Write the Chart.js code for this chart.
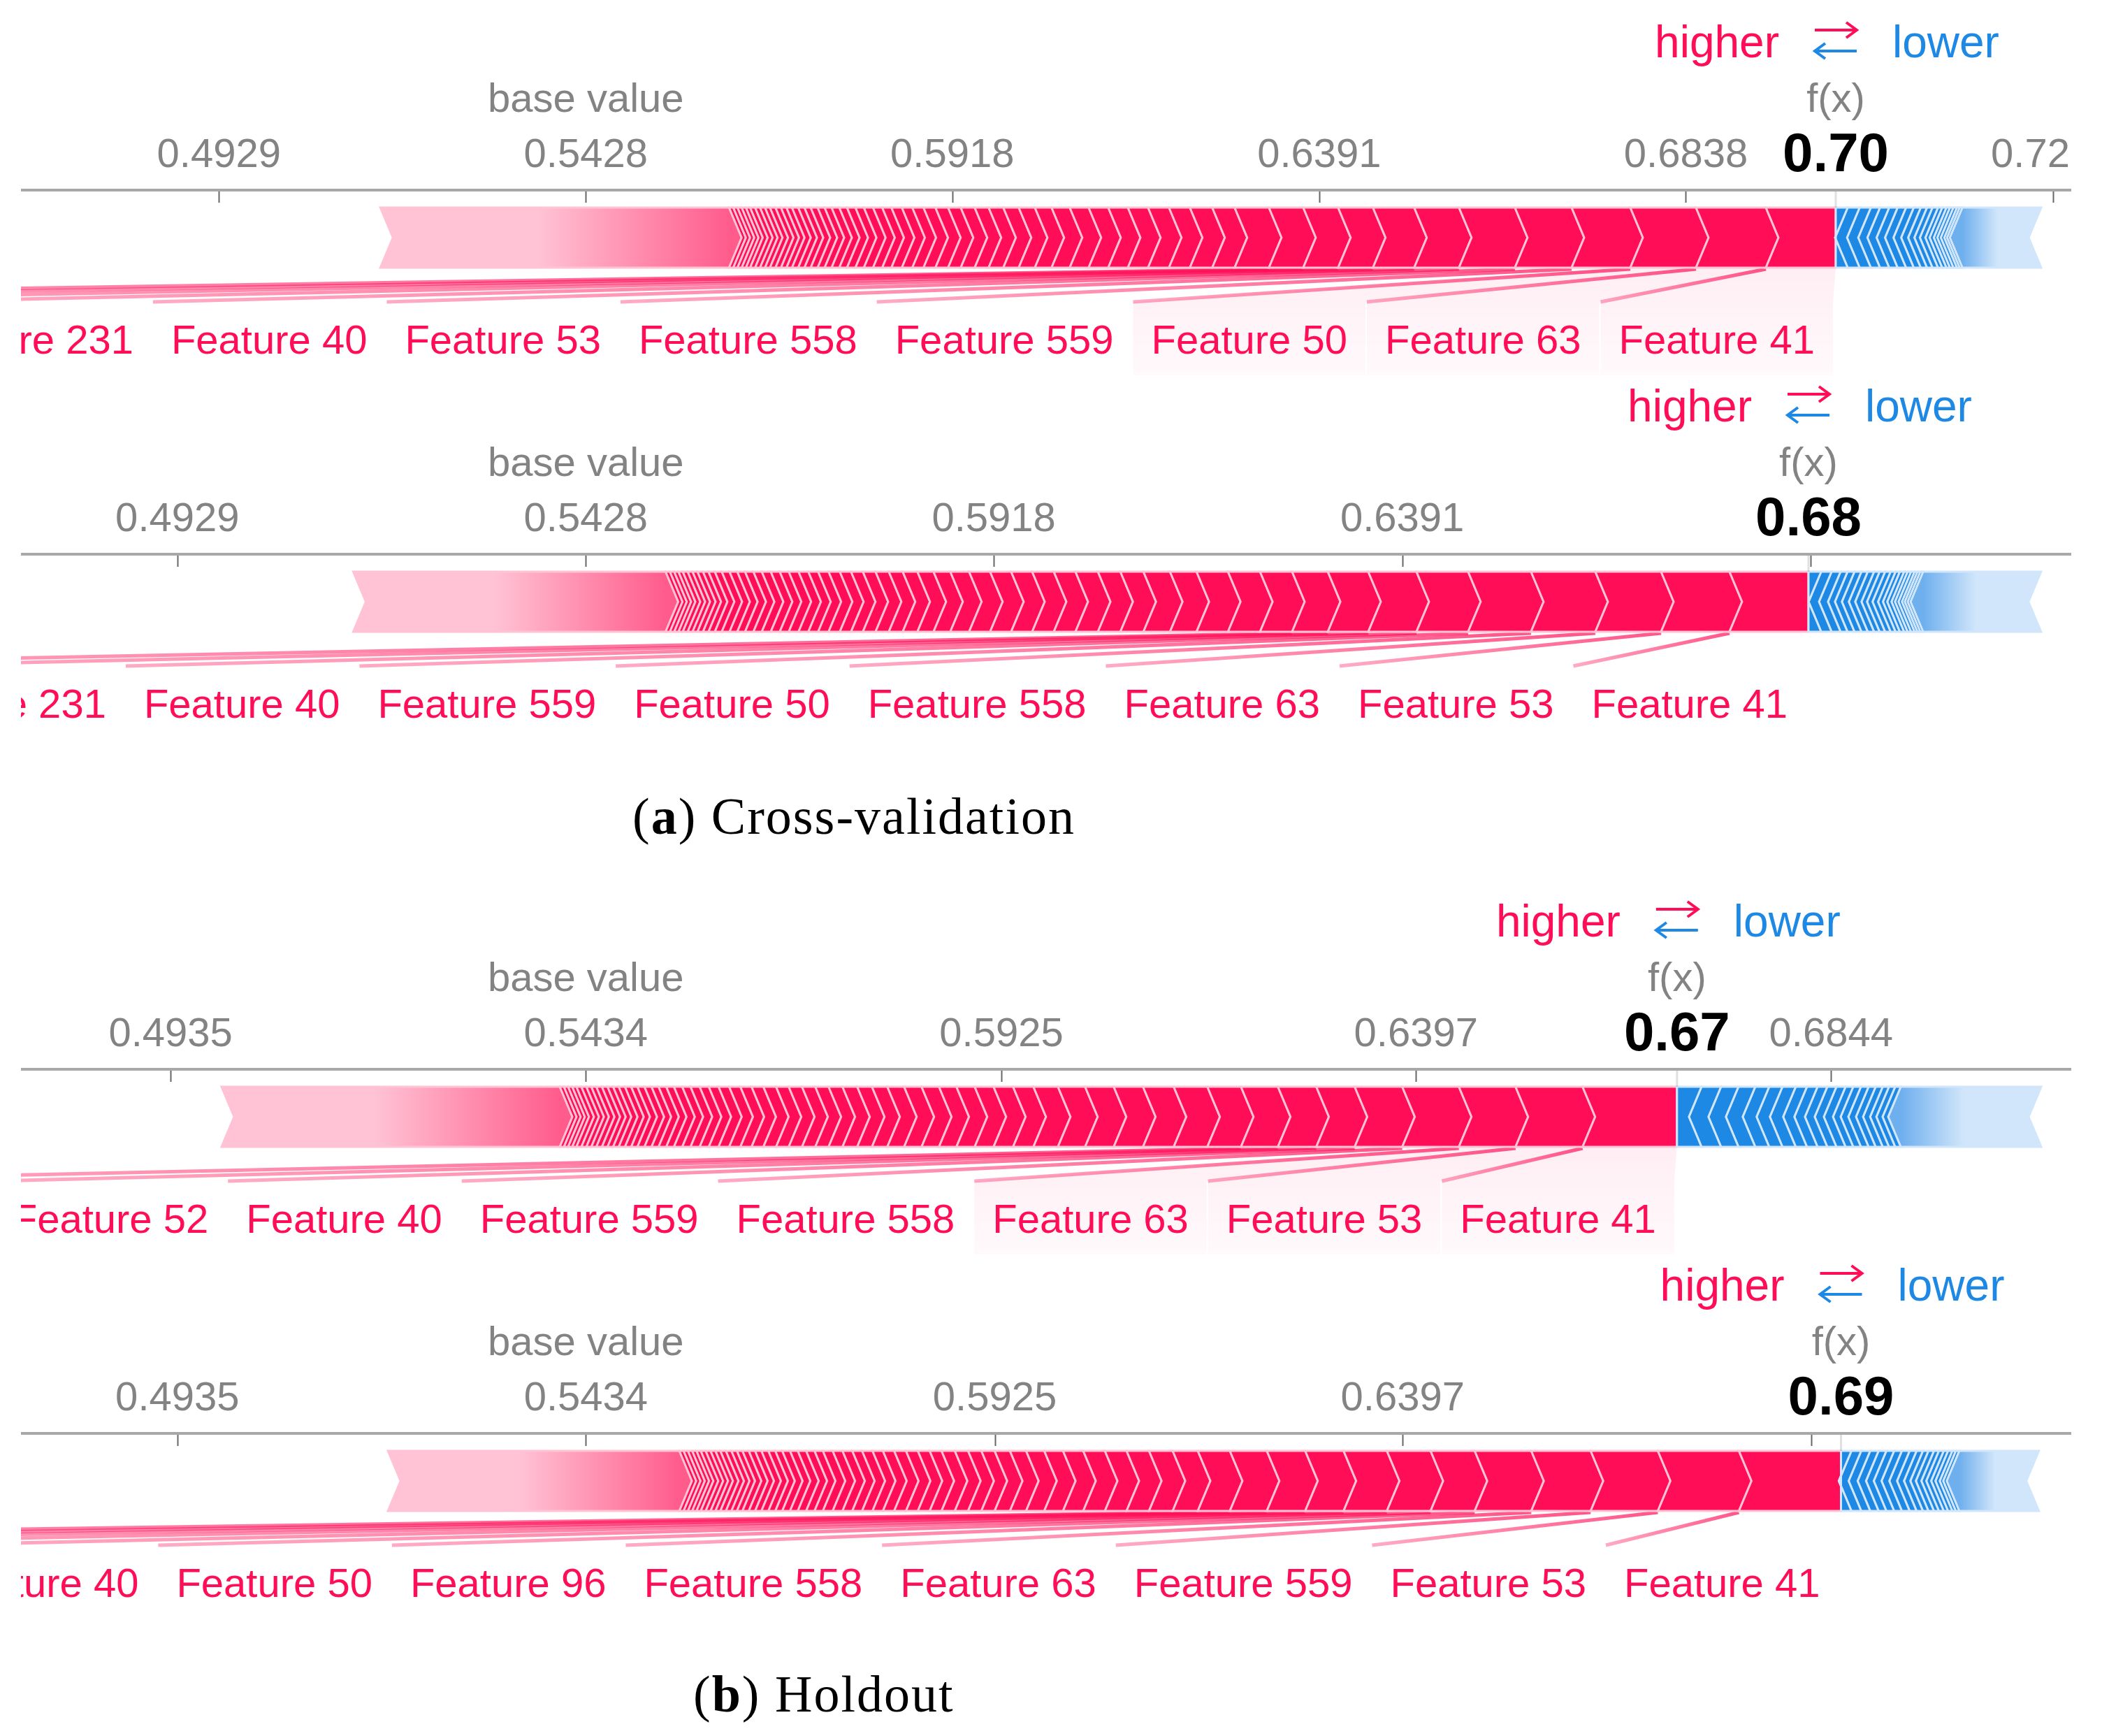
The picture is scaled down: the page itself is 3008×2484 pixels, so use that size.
<!DOCTYPE html>
<html>
<head>
<meta charset="utf-8">
<script src="https://cdn.jsdelivr.net/npm/chart.js@4.4.0/dist/chart.umd.min.js"></script>
<style>
  body { margin: 0; background: #fff; }
  #page { position: relative; width: 3008px; height: 2484px; overflow: hidden; background: #fff; }
  canvas { position: absolute; left: 30px; }
  .caption { position: absolute; font-family: 'Liberation Serif', serif; font-size: 74px; line-height: 1; color: #000; letter-spacing: 2px; white-space: nowrap; }
</style>
</head>
<body>
<div id="page">
  <canvas id="cv1" width="2934" height="540" style="top:0px"></canvas>
  <canvas id="cv2" width="2934" height="540" style="top:521px"></canvas>
  <div class="caption" style="left:905px; top:1131px">(<b>a</b>) Cross-validation</div>
  <canvas id="ho1" width="2934" height="540" style="top:1258px"></canvas>
  <canvas id="ho2" width="2934" height="540" style="top:1779px"></canvas>
  <div class="caption" style="left:992px; top:2387px">(<b>b</b>) Holdout</div>
</div>
<script>
// Cross-validation, first sample
const cv1Ticks = [0.4929, 0.5428, 0.5918, 0.6391, 0.6838, 0.7254];
const cv1Range = [-0.1363, 0.9814];
const cv1Base = 0.5428;
const cv1Names = ['Feature 41', 'Feature 63', 'Feature 50', 'Feature 559', 'Feature 558', 'Feature 53', 'Feature 40', 'Feature 231', null, null, null];
const cv1Higher = [0.0381, 0.0381, 0.0358, 0.0320, 0.0309, 0.0305, 0.0244, 0.0225, 0.0190, 0.0190, 0.0187, 0.0187, 0.0122, 0.0122, 0.0114, 0.0114, 0.0110, 0.0107, 0.0107, 0.0103, 0.0099, 0.0091, 0.0088, 0.0084, 0.0080, 0.0076, 0.0076, 0.0069, 0.0069, 0.0065, 0.0061, 0.0057, 0.0057, 0.0050, 0.0050, 0.0050, 0.0046, 0.0046, 0.0042, 0.0042, 0.0038, 0.0038, 0.0038, 0.0034, 0.0034, 0.0034, 0.0030, 0.0030, 0.0030, 0.0030, 0.0027, 0.0027, 0.0027, 0.0027, 0.0023, 0.0023, 0.0023, 0.0023, 0.0023];
const cv1HigherRest = 0.1901;
const cv1Lower = [0.0065, 0.0065, 0.0061, 0.0050, 0.0050, 0.0046, 0.0046, 0.0042, 0.0038, 0.0034, 0.0030, 0.0030, 0.0023, 0.0023, 0.0019, 0.0019, 0.0019, 0.0015, 0.0015];
const cv1LowerRest = 0.0430;

// Cross-validation, second sample
const cv2Ticks = [0.4929, 0.5428, 0.5918, 0.6391, 0.6838];
const cv2Range = [-0.1050, 0.8991];
const cv2Base = 0.5428;
const cv2Names = ['Feature 41', 'Feature 53', 'Feature 63', 'Feature 558', 'Feature 50', 'Feature 559', 'Feature 40', 'Feature 231', null];
const cv2Higher = [0.0387, 0.0335, 0.0322, 0.0315, 0.0308, 0.0253, 0.0236, 0.0198, 0.0175, 0.0157, 0.0157, 0.0154, 0.0130, 0.0130, 0.0113, 0.0110, 0.0110, 0.0106, 0.0106, 0.0103, 0.0103, 0.0103, 0.0092, 0.0082, 0.0079, 0.0072, 0.0068, 0.0065, 0.0062, 0.0058, 0.0055, 0.0055, 0.0051, 0.0048, 0.0048, 0.0048, 0.0044, 0.0044, 0.0044, 0.0041, 0.0041, 0.0038, 0.0038, 0.0038, 0.0034, 0.0031, 0.0027, 0.0027, 0.0024, 0.0024, 0.0024, 0.0021, 0.0021, 0.0021, 0.0021];
const cv2HigherRest = 0.1530;
const cv2Lower = [0.0062, 0.0051, 0.0044, 0.0034, 0.0034, 0.0034, 0.0031, 0.0031, 0.0027, 0.0027, 0.0027, 0.0024, 0.0021, 0.0021, 0.0017, 0.0017, 0.0017, 0.0014, 0.0014, 0.0014];
const cv2LowerRest = 0.0578;

// Holdout, first sample
const ho1Ticks = [0.4935, 0.5434, 0.5925, 0.6397, 0.6844];
const ho1Range = [-0.0981, 0.8898];
const ho1Base = 0.5434;
const ho1Names = ['Feature 41', 'Feature 53', 'Feature 63', 'Feature 558', 'Feature 559', 'Feature 40', 'Feature 52', null];
const ho1Higher = [0.0455, 0.0323, 0.0273, 0.0273, 0.0229, 0.0185, 0.0185, 0.0178, 0.0162, 0.0162, 0.0148, 0.0141, 0.0138, 0.0131, 0.0118, 0.0098, 0.0094, 0.0091, 0.0088, 0.0084, 0.0084, 0.0084, 0.0081, 0.0074, 0.0071, 0.0071, 0.0067, 0.0064, 0.0064, 0.0064, 0.0061, 0.0061, 0.0057, 0.0054, 0.0054, 0.0051, 0.0047, 0.0044, 0.0044, 0.0040, 0.0040, 0.0037, 0.0037, 0.0034, 0.0034, 0.0034, 0.0030, 0.0030, 0.0030, 0.0027, 0.0027, 0.0027, 0.0027, 0.0024, 0.0024, 0.0024, 0.0024, 0.0020, 0.0020, 0.0020, 0.0020];
const ho1HigherRest = 0.1630;
const ho1Lower = [0.0118, 0.0094, 0.0084, 0.0081, 0.0067, 0.0064, 0.0064, 0.0054, 0.0051, 0.0047, 0.0044, 0.0044, 0.0037, 0.0037, 0.0037, 0.0034, 0.0034, 0.0030, 0.0030, 0.0027];
const ho1LowerRest = 0.0677;

// Holdout, second sample
const ho2Ticks = [0.4935, 0.5434, 0.5925, 0.6397, 0.6844];
const ho2Range = [-0.1026, 0.9015];
const ho2Base = 0.5434;
const ho2Names = ['Feature 41', 'Feature 53', 'Feature 559', 'Feature 63', 'Feature 558', 'Feature 96', 'Feature 50', 'Feature 40', null, null, null, null];
const ho2Higher = [0.0500, 0.0397, 0.0329, 0.0291, 0.0277, 0.0216, 0.0214, 0.0212, 0.0188, 0.0188, 0.0181, 0.0157, 0.0123, 0.0116, 0.0110, 0.0106, 0.0106, 0.0099, 0.0092, 0.0089, 0.0079, 0.0075, 0.0065, 0.0065, 0.0065, 0.0065, 0.0058, 0.0058, 0.0058, 0.0058, 0.0055, 0.0051, 0.0051, 0.0048, 0.0048, 0.0048, 0.0048, 0.0041, 0.0041, 0.0041, 0.0038, 0.0038, 0.0034, 0.0034, 0.0034, 0.0031, 0.0031, 0.0031, 0.0027, 0.0027, 0.0027, 0.0027, 0.0024, 0.0024, 0.0024, 0.0024, 0.0021, 0.0021, 0.0021, 0.0021, 0.0021];
const ho2HigherRest = 0.1427;
const ho2Lower = [0.0051, 0.0048, 0.0044, 0.0041, 0.0038, 0.0038, 0.0038, 0.0038, 0.0034, 0.0031, 0.0027, 0.0027, 0.0024, 0.0024, 0.0021, 0.0021, 0.0017, 0.0017];
const ho2LowerRest = 0.0390;


// Colours and layout (pixels inside each canvas)
const RED = '#ff0d57';
const RED_LIGHT = 'rgb(255,195,213)';
const BLUE = '#1e88e5';
const BLUE_LIGHT = 'rgb(209,230,250)';
const AXIS_Y = 272;
const BAR_TOP = 297;
const BAR_BOT = 383;
const TIP = 18;
const LINE_END_Y = 432;
const LABEL_Y = 506;
const BACK_BOT = 537;
const FONT = '"Liberation Sans", Arial, sans-serif';

const logit = p => Math.log(p / (1 - p));
const sigmoid = v => 1 / (1 + Math.exp(-v));
const sum = a => a.reduce((s, v) => s + v, 0);


function drawSegment(ctx, x0, x1, tipL, tipR, dir, fill, stroke) {
  const mid = (BAR_TOP + BAR_BOT) / 2;
  ctx.beginPath();
  ctx.moveTo(x0, BAR_TOP);
  ctx.lineTo(x1, BAR_TOP);
  ctx.lineTo(x1 + dir * tipR, mid);
  ctx.lineTo(x1, BAR_BOT);
  ctx.lineTo(x0, BAR_BOT);
  ctx.lineTo(x0 + dir * tipL, mid);
  ctx.closePath();
  ctx.fillStyle = fill;
  ctx.fill();
  ctx.strokeStyle = stroke;
  ctx.lineWidth = 3;
  ctx.stroke();
}


function drawArrow(ctx, xFrom, xTo, y, color) {
  const d = Math.sign(xTo - xFrom);
  ctx.strokeStyle = color;
  ctx.lineWidth = 4;
  ctx.beginPath();
  ctx.moveTo(xFrom, y);
  ctx.lineTo(xTo, y);
  ctx.moveTo(xTo - d * 15, y - 11);
  ctx.lineTo(xTo, y);
  ctx.lineTo(xTo - d * 15, y + 11);
  ctx.stroke();
}


function forcePlot(id, cfg) {
  const baseL = logit(cfg.base);
  const fxL = baseL + sum(cfg.higher) + cfg.higherRest - sum(cfg.lower) - cfg.lowerRest;

  // segments pushing higher, from f(x) leftwards
  const red = [];
  let cur = fxL;
  cfg.higher.forEach(v => { red.push([cur - v, cur]); cur -= v; });
  const redRest = [cur - cfg.higherRest, cur];

  // segments pushing lower, from f(x) rightwards
  const blue = [];
  cur = fxL;
  cfg.lower.forEach(v => { blue.push([cur, cur + v]); cur += v; });
  const blueRest = [cur, cur + cfg.lowerRest];

  const forceDraw = {
    id: 'force-' + id,
    afterDraw(chart) {
      const ctx = chart.ctx;
      const xs = chart.scales.x;
      const px = v => xs.getPixelForValue(v);
      const fxX = px(fxL);

      ctx.save();

      // label boxes, right to left from f(x)
      ctx.font = '58px ' + FONT;
      const defaultW = ctx.measureText('Feature 231').width;
      const boxes = [];
      let right = fxX - 30;
      cfg.names.forEach((name, i) => {
        const w = name ? ctx.measureText(name).width : defaultW;
        const left = right - w;
        boxes.push({ name, textLeft: left, boxLeft: left - 26, boxRight: right + 26, seg: red[i] });
        right = left - 54;
      });

      // label backings
      boxes.slice(0, cfg.backing).forEach(b => {
        const g = ctx.createLinearGradient(0, BAR_BOT, 0, BACK_BOT);
        g.addColorStop(0, 'rgba(255,13,87,0.07)');
        g.addColorStop(1, 'rgba(255,13,87,0.025)');
        ctx.beginPath();
        ctx.moveTo(px(b.seg[0]), BAR_BOT);
        ctx.lineTo(px(b.seg[1]), BAR_BOT);
        ctx.lineTo(b.boxRight, LINE_END_Y);
        ctx.lineTo(b.boxRight, BACK_BOT);
        ctx.lineTo(b.boxLeft, BACK_BOT);
        ctx.lineTo(b.boxLeft, LINE_END_Y);
        ctx.closePath();
        ctx.fillStyle = g;
        ctx.fill();
      });

      // label lines
      boxes.forEach(b => {
        const sx = px(b.seg[0]);
        const g = ctx.createLinearGradient(b.boxLeft, 0, sx, 0);
        g.addColorStop(0, 'rgba(255,13,87,0.35)');
        g.addColorStop(1, 'rgba(255,13,87,0.7)');
        ctx.strokeStyle = g;
        ctx.lineWidth = 5;
        ctx.beginPath();
        ctx.moveTo(sx, BAR_BOT + 2);
        ctx.lineTo(b.boxLeft, LINE_END_Y);
        ctx.stroke();
      });

      // bar: higher side
      let g = ctx.createLinearGradient(px(redRest[0]), 0, px(redRest[1]), 0);
      g.addColorStop(0, RED_LIGHT);
      g.addColorStop(0.45, RED_LIGHT);
      g.addColorStop(1, 'rgb(255,92,140)');
      drawSegment(ctx, px(redRest[0]), px(redRest[1]), TIP, TIP, 1, g, RED_LIGHT);
      for (let i = red.length - 1; i >= 0; i--) {
        drawSegment(ctx, px(red[i][0]), px(red[i][1]), TIP, i === 0 ? 0 : TIP, 1, RED, RED_LIGHT);
      }

      // bar: lower side
      g = ctx.createLinearGradient(px(blueRest[0]), 0, px(blueRest[1]), 0);
      g.addColorStop(0, 'rgb(110,175,238)');
      g.addColorStop(0.45, BLUE_LIGHT);
      g.addColorStop(1, BLUE_LIGHT);
      drawSegment(ctx, px(blueRest[0]), px(blueRest[1]), TIP, TIP, -1, g, BLUE_LIGHT);
      for (let i = blue.length - 1; i >= 0; i--) {
        drawSegment(ctx, px(blue[i][0]), px(blue[i][1]), i === 0 ? 0 : TIP, TIP, -1, BLUE, BLUE_LIGHT);
      }

      // label texts
      ctx.font = '58px ' + FONT;
      ctx.fillStyle = RED;
      ctx.textAlign = 'left';
      ctx.textBaseline = 'alphabetic';
      boxes.forEach(b => { if (b.name) ctx.fillText(b.name, b.textLeft, LABEL_Y); });

      // tick marks under the axis line
      ctx.strokeStyle = '#666';
      ctx.lineWidth = 2;
      xs.ticks.forEach(t => {
        const x = Math.round(px(t.value)) + 0.5;
        ctx.beginPath();
        ctx.moveTo(x, AXIS_Y + 2);
        ctx.lineTo(x, AXIS_Y + 18);
        ctx.stroke();
      });

      // f(x) marker
      ctx.strokeStyle = 'rgba(0,0,0,0.12)';
      ctx.lineWidth = 3;
      ctx.beginPath();
      ctx.moveTo(fxX, AXIS_Y + 2);
      ctx.lineTo(fxX, BAR_TOP);
      ctx.stroke();

      // base value and f(x) labels
      ctx.textAlign = 'center';
      ctx.fillStyle = '#838383';
      ctx.font = '58px ' + FONT;
      ctx.fillText('base value', px(baseL), 160);
      ctx.fillText('f(x)', fxX, 160);
      ctx.fillStyle = '#000';
      ctx.font = 'bold 78px ' + FONT;
      ctx.fillText(sigmoid(fxL).toFixed(2), fxX, 245);

      // higher / lower legend
      ctx.font = '64px ' + FONT;
      ctx.textAlign = 'right';
      ctx.fillStyle = RED;
      ctx.fillText('higher', fxX - 81, 82);
      ctx.textAlign = 'left';
      ctx.fillStyle = BLUE;
      ctx.fillText('lower', fxX + 81, 82);
      drawArrow(ctx, fxX - 30, fxX + 30, 43, RED);
      drawArrow(ctx, fxX + 30, fxX - 30, 73, BLUE);

      ctx.restore();
    }
  };

  return new Chart(document.getElementById(id), {
    type: 'scatter',
    data: { datasets: [] },
    options: {
      responsive: false,
      animation: false,
      layout: { padding: 0 },
      plugins: { legend: { display: false }, tooltip: { enabled: false } },
      scales: {
        x: {
          type: 'linear',
          position: 'top',
          min: cfg.range[0],
          max: cfg.range[1],
          afterBuildTicks: axis => { axis.ticks = cfg.ticks.map(t => ({ value: logit(t) })); },
          afterFit: axis => { axis.height = AXIS_Y; axis.paddingLeft = 0; axis.paddingRight = 0; },
          ticks: {
            autoSkip: false,
            maxRotation: 0,
            minRotation: 0,
            padding: 14,
            color: '#838383',
            font: { family: 'Liberation Sans', size: 58 },
            callback: (value, i) => Math.abs(value - fxL) < 0.05 ? '' : cfg.ticks[i].toFixed(4)
          },
          grid: { drawOnChartArea: false, drawTicks: false },
          border: { color: '#a8a8a8', width: 4 }
        },
        y: { display: false, min: 0, max: 1 }
      }
    },
    plugins: [forceDraw]
  });
}


forcePlot('cv1', { ticks: cv1Ticks, range: cv1Range, base: cv1Base, names: cv1Names, higher: cv1Higher, higherRest: cv1HigherRest, lower: cv1Lower, lowerRest: cv1LowerRest, backing: 3 });
forcePlot('cv2', { ticks: cv2Ticks, range: cv2Range, base: cv2Base, names: cv2Names, higher: cv2Higher, higherRest: cv2HigherRest, lower: cv2Lower, lowerRest: cv2LowerRest, backing: 0 });
forcePlot('ho1', { ticks: ho1Ticks, range: ho1Range, base: ho1Base, names: ho1Names, higher: ho1Higher, higherRest: ho1HigherRest, lower: ho1Lower, lowerRest: ho1LowerRest, backing: 3 });
forcePlot('ho2', { ticks: ho2Ticks, range: ho2Range, base: ho2Base, names: ho2Names, higher: ho2Higher, higherRest: ho2HigherRest, lower: ho2Lower, lowerRest: ho2LowerRest, backing: 0 });
</script>
</body>
</html>
